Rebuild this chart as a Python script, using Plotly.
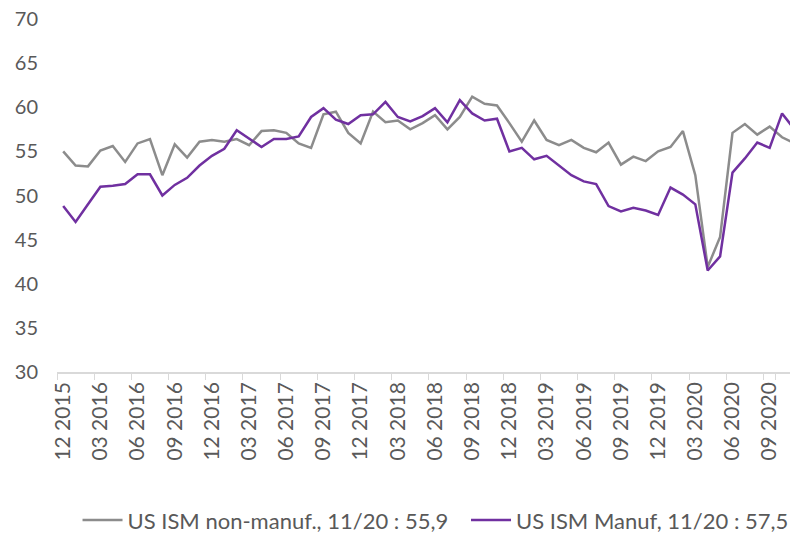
import plotly.graph_objects as go

# Monthly categories: 12 2015 .. 11 2020
start_year, start_month, n_months = 2015, 12, 60
months = []
y, m = start_year, start_month
for _ in range(n_months):
    months.append(f"{m:02d} {y}")
    m += 1
    if m > 12:
        m = 1
        y += 1

non_manuf = [55.0, 53.4, 53.3, 55.1, 55.6, 53.8, 55.9, 56.4, 52.3, 55.8,
             54.3, 56.1, 56.3, 56.1, 56.4, 55.7, 57.3, 57.4, 57.1, 55.9,
             55.4, 59.2, 59.5, 57.1, 55.9, 59.5, 58.3, 58.5, 57.5, 58.2,
             59.1, 57.5, 58.9, 61.2, 60.4, 60.2, 58.2, 56.1, 58.5, 56.3,
             55.7, 56.3, 55.4, 54.9, 56.0, 53.5, 54.4, 53.9, 55.0, 55.5,
             57.3, 52.3, 41.9, 45.3, 57.1, 58.1, 56.9, 57.8, 56.6, 55.9]

manuf = [48.8, 47.0, 49.0, 51.0, 51.1, 51.3, 52.4, 52.4, 50.0, 51.2,
         52.0, 53.4, 54.5, 55.3, 57.4, 56.4, 55.5, 56.4, 56.4, 56.7,
         58.9, 59.9, 58.6, 58.1, 59.1, 59.2, 60.6, 58.9, 58.4, 59.0,
         59.9, 58.3, 60.8, 59.3, 58.5, 58.7, 55.0, 55.4, 54.1, 54.5,
         53.4, 52.3, 51.6, 51.3, 48.8, 48.2, 48.6, 48.3, 47.8, 50.9,
         50.1, 49.0, 41.5, 43.1, 52.6, 54.2, 56.0, 55.4, 59.3, 57.5]

series_names = ["US ISM non-manuf., 11/20 : 55,9", "US ISM Manuf, 11/20 : 57,5"]
series_colors = ["#8c8c8c", "#7030a0"]
tick_labels = months[::3]
y_ticks = [30, 35, 40, 45, 50, 55, 60, 65, 70]

FONT = "Lato, Liberation Sans, Arial, sans-serif"

fig = go.Figure()
for name, vals, col, lg in zip(series_names, [non_manuf, manuf], series_colors,
                               ["legend", "legend2"]):
    fig.add_trace(go.Scatter(x=months, y=vals, mode="lines", name=name,
                             legend=lg, line=dict(color=col, width=2.5)))

legend_common = dict(orientation="h", xanchor="left", y=-0.42, yanchor="middle",
                     font=dict(size=22, color="#595959"), itemwidth=40,
                     bgcolor="rgba(0,0,0,0)")

fig.update_layout(
    width=790, height=536,
    margin=dict(l=57, r=0, t=19, b=164, autoexpand=False),
    paper_bgcolor="white", plot_bgcolor="white",
    font=dict(family=FONT, size=20, color="#595959"),
    showlegend=True,
    legend=dict(x=0.028, **legend_common),
    legend2=dict(x=0.558, **legend_common),
    xaxis=dict(type="category", range=[-0.5, 58.64], automargin=False,
               tickmode="array", tickvals=tick_labels, ticktext=tick_labels,
               tickson="boundaries", ticks="outside", ticklen=6,
               tickcolor="#d9d9d9", showline=True, linecolor="#d9d9d9",
               linewidth=1.5, showgrid=False, tickangle=-90,
               tickfont=dict(size=21, color="#595959")),
    yaxis=dict(range=[30, 70], tickvals=y_ticks, showgrid=False, automargin=False,
               zeroline=False, showline=False, ticks="",
               ticklabelstandoff=18,
               tickfont=dict(size=20, color="#595959")),
)

fig.write_html("out.html", config={"displayModeBar": False},
               post_script="document.body.style.margin='0';")
